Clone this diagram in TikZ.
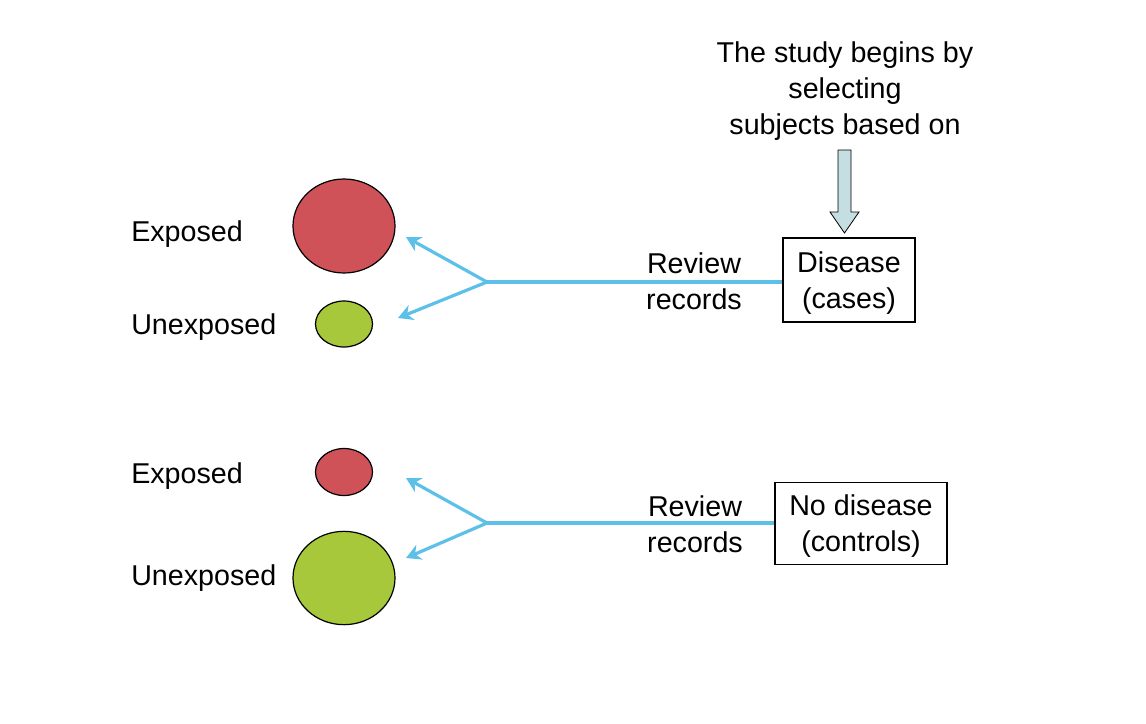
\documentclass[tikz,border=0pt]{standalone}
\usepackage{fontspec}
\setmainfont{Liberation Sans}
\usetikzlibrary{shapes.geometric,arrows.meta}

\definecolor{expred}{RGB}{207,82,88}
\definecolor{unxgreen}{RGB}{166,200,58}
\definecolor{feedblue}{RGB}{92,192,232}
\definecolor{pointfill}{RGB}{196,222,226}

\begin{document}
\begin{tikzpicture}[x=0.75pt,y=0.75pt,yscale=-1,xscale=1,
  lbl/.style={inner sep=0.75pt,text depth=0pt,font=\fontsize{21.5}{27}\selectfont,align=center},
  blob/.style={ellipse,draw=black,line width=0.9pt,inner sep=0pt},
  groupbox/.style={draw=black,line width=0.9pt,inner sep=0pt,text depth=0pt,font=\fontsize{21.5}{27}\selectfont,align=center},
  feed/.style={draw=feedblue,line width=2.4pt},
  tip/.style={-{Stealth[length=11pt,width=12pt]}}]
\useasboundingbox (0,0) rectangle (1146,724);

% Text Node
\node[lbl] (begins) at (845,88) {The study begins by\\selecting\\subjects based on};
%Shape: Down Arrow
\draw[draw=black,line width=0.6pt,fill=pointfill] (838,150) -- (851,150) -- (851,212) -- (859,212) -- (844.5,233) -- (830,212) -- (838,212) -- cycle;

%Shape: Rectangle
\node[groupbox,minimum width=99pt,minimum height=63pt] (cases) at (849,280) {Disease\\(cases)};
\node[groupbox,minimum width=129pt,minimum height=62pt] (controls) at (861,523.5) {No disease\\(controls)};

%Shape: Ellipse
\node[blob,fill=expred,minimum width=76.5pt,minimum height=70.5pt] (expA) at (344,226) {};
\node[blob,fill=unxgreen,minimum width=42.75pt,minimum height=34.5pt] (unxA) at (344,324) {};
\node[blob,fill=expred,minimum width=42.75pt,minimum height=35.25pt] (expB) at (344,472) {};
\node[blob,fill=unxgreen,minimum width=76.5pt,minimum height=70pt] (unxB) at (344,578) {};

% Text Node
\node[lbl,anchor=west] (lexpA) at (130,231) {Exposed};
\node[lbl,anchor=west] (lunxA) at (130,324) {Unexposed};
\node[lbl,anchor=west] (lexpB) at (130,473) {Exposed};
\node[lbl,anchor=west] (lunxB) at (130,575) {Unexposed};
\node[lbl] (revA) at (694,281) {Review\\records};
\node[lbl] (revB) at (695,524) {Review\\records};

%Straight Lines
\coordinate (forkA) at (487,282);
\coordinate (tipexpA) at (406,237);
\coordinate (tipunxA) at (398,318);
\coordinate (forkB) at (487,523);
\coordinate (tipexpB) at (406,478);
\coordinate (tipunxB) at (406,558);

\draw[feed] (cases.west |- forkA) -- (forkA);
\draw[feed,tip] (forkA) -- (tipexpA);
\draw[feed,tip] (forkA) -- (tipunxA);
\draw[feed] (controls.west |- forkB) -- (forkB);
\draw[feed,tip] (forkB) -- (tipexpB);
\draw[feed,tip] (forkB) -- (tipunxB);

\end{tikzpicture}
\end{document}
